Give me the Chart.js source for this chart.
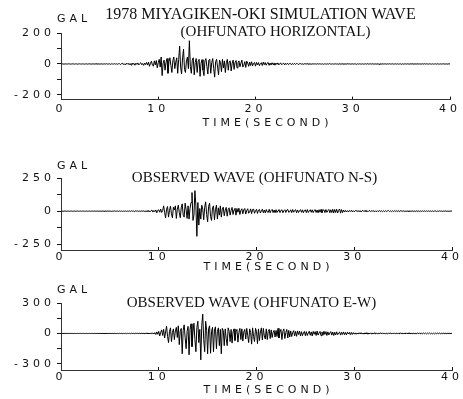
<!DOCTYPE html>
<html>
<head>
<meta charset="utf-8">
<script src="https://cdn.jsdelivr.net/npm/chart.js@4/dist/chart.umd.min.js"></script>
<style>
  html, body { margin: 0; padding: 0; background: #fff; }
  #wrap { position: relative; width: 463px; height: 399px; overflow: hidden; }
  canvas { position: absolute; left: 0; }
</style>
</head>
<body>
<div id="wrap">
  <canvas id="c1" width="463" height="132" style="top:0px"></canvas>
  <canvas id="c2" width="463" height="142" style="top:132px"></canvas>
  <canvas id="c3" width="463" height="125" style="top:274px"></canvas>
</div>
<script>
// sampling step of the traces (seconds) and the time axis ticks
const dt = 0.1;
const xTicks = [0, 10, 20, 30, 40];

// acceleration (GAL), one value every 0.1 s from 0 to 40 s
const simHorizontal = [
  0, 1, 0, -1, 0, 1, -1, 0, 1, 0, -1, 0, 1, 0, -1, 1, 0, -1, 0, 1,
  0, -1, 1, 0, -1, 0, 1, -1, 0, 1, 0, -1, 0, 1, -1, 0, 1, 0, -1, 1,
  -1, 0, 1, -1, 0, 1, -1, 2, -1, 0, 1, -2, 1, 0, -1, 2, -1, 1, -2, 1,
  3, -4, 1, 5, -3, 2, -6, 4, -2, 5, -5, 3, -7, 6, -2, 4, -8, 5, -3, 7,
  -6, 2, 8, -5, 3, -9, 6, -4, 10, -7,
  12, -15, 5, 18, -8, -14, 20, -6, 22, -25,
  8, 30, -20, 45, -75, 5, 25, -40, 10, 35,
  -60, 15, 40, -10, -55, 20, 45, -30, 12, 40,
  -60, 30, 115, -20, -65, 40, 95, -35, -55, 20,
  45, -30, 150, -15, -60, 25, 40, -70, 10, 35,
  -55, 15, 30, -80, 5, 28, -40, -75, 20, 35,
  -15, -65, 25, 30, -60, 10, 35, -30, -85, 15,
  30, -20, -70, 25, 10, -50, 30, -25, 20, -55,
  8, 30, -40, 15, 20, -45, 5, 25, -35, 10,
  22, -25, 8, 20, -18, 5, 25, -20, -8, 15, -22, 18, 6, -15, 12, -10, 14, -12, 4, 10,
  -14, 10, -6, 9, -11, 3, 8, -10, 12, -5, 9, -8, 4, 10, -9, 6, -7, 8, -4, 7,
  -8, 6, -3, 7, -6, 3, 6, -5, 2, 5, -6, 4, -3, 5, -4, 2, 4, -5, 3, -3,
  4, -3, 2, 3, -4, 1, 3, -2, 2, -3, 1, 2, -2, 3, -1, 2, -2, 1, -2, 2,
  -1, 1, 0, -1, 2, -1, 1, 0, -1, 1, -2, 1, 0, -1, 1, -1, 2, 0, -1, 1,
  -1, 0, 1, -1, 1, -2, 1, 0, -1, 1, 0, -1, 1, -1, 0, 2, -1, 1, -1, 0,
  1, -1, 1, 0, -2, 1, -1, 1, 0, -1, 1, -1, 0, 1, -1, 2, -1, 0, 1, -1,
  1, 0, -1, 1, -1, 0, 1, -2, 1, -1, 0, 1, -1, 1, 0, -1, 1, -1, 2, -1,
  0, 1, -1, 0, 1, -1, 1, -1, 0, 1, -2, 1, -1, 0, 1, -1, 1, 0, -1, 1,
  -1, 2, -1, 0, 1, -1, 0, 1, -1, 1, -1, 0, 1, -1, 2, -1, 1, 0, -1, 1,
  0, -1, 1, -1, 0, 1, -1, 1, 0, -1, 1, -1, 0, 1, 0, -1, 1, -1, 0, 1,
  0
];

const obsNS = [
  0, 1, -1, 0, 1, 0, -1, 1, 0, -1, 1, 0, -1, 0, 1, -1, 0, 1, -1, 0,
  1, -1, 0, 1, 0, -1, 1, -1, 0, 1, -1, 0, 1, -1, 1, 0, -1, 1, 0, -1,
  1, -1, 0, 1, -1, 1, 0, -1, 2, -1, 1, 0, -2, 1, -1, 2, -1, 0, 1, -2,
  2, -1, 1, -2, 1, -1, 2, -2, 1, -1, 2, -2, 3, -1, 2, -3, 2, -1, 3, -2,
  2, -3, 3, -2, 4, -3, 2, -4, 3, -2,
  4, -6, 3, 8, -7, 5, -4, 9, -12, 6, 10, -8, 15, -10, 5,
  40, -10, -50, 15, 35,
  -45, 5, 38, -20, -50, 30, 10, 40, -55, 15,
  45, -10, -50, 25, 55, -30, -45, 60, 10, -55,
  40, -60, 20, 65, 140, -70, -30, 155, 40, -190,
  65, -105, 20, -60, 45, 15, -65, 30, 70, -25,
  -80, 35, 60, -40, -70, 25, 40, -65, 10, 45,
  -60, 25, -30, 40, -45, 15, 30, -35, 8, 28,
  -38, 12, 25, -30, 5, 28, -25, 10, 22, -30,
  20, -8, 22, -25, 6, 18, -20, 10, 20, -22, 5, 18, -15, -8, 17, -18, 12, 15, -16, 4,
  14, -17, 8, 13, -14, 3, 15, -12, 9, -13, 12, -6, -10, 14, -12, 5, 13, -11, 8, -12,
  11, -10, 4, 12, -11, 6, 10, -12, 3, 11, -10, 8, 12, -9, -4, 10, -11, 12, -8, 5,
  11, -12, 9, -10, 4, 11, -9, 10, -12, 6, 9, -11, 12, -10, 3, 11, -9, 10, -11, 5,
  12, -10, 9, -13, 11, -8, 13, -12, 6, 10, -11, 12, -9, 4, 13, -12, 10, -11, 14, -13,
  12, -10, 15, -14, 6, 16, -15, 12, -11, 8,
  -7, 6, -5, 4, -6, 5, -3, 6, -5, 4, -5, 3, 6, -4, 5, -5, 4, -6, 3, 5,
  -4, 5, -3, 4, -5, 3, 4, -4, 5, -3, 4, -5, 3, -4, 4, -3, 5, -4, 3, -4,
  3, -4, 4, -3, 2, 4, -3, 3, -4, 3, -3, 4, -2, 3, -3, 4, -3, 2, 3, -3,
  4, -3, 2, -3, 3, -2, 3, -3, 2, -2, 3, -3, 2, -3, 3, -2, 2, -3, 2, -2,
  3, -2, 2, -2, 3, -2, 2, -1, 2, -2, 2, -2, 1, 2, -2, 1, -2, 2, -1, 2,
  -2, 1, -1, 2, -1, 1, -2, 1, -1, 1,
  0
];

const obsEW = [
  0, 1, -1, 0, 1, 0, -1, 1, 0, -1, 1, 0, -1, 0, 1, -1, 0, 1, -1, 0,
  1, -1, 0, 1, 0, -1, 1, -1, 0, 1, -1, 0, 1, -1, 1, 0, -1, 1, 0, -1,
  1, -1, 0, 1, -1, 1, 0, -1, 1, -1, 1, 0, -1, 1, -1, 2, -1, 0, 1, -2,
  2, -1, 1, -2, 1, -1, 2, -2, 1, -1, 2, -2, 3, -1, 2, -3, 2, -1, 3, -2,
  3, -3, 4, -2, 3, -4, 3, -2, 5, -4, 4, -5, 6, -3, 5,
  -6, 8, -10, 15, -8, 20, -25, 12, 35, -20,
  40, -45, 15, 70, -30,
  -90, 20, 55, -80, 10, 45, -60, 25, 60, -40,
  75, -110, 25, 50, -200, 30, 85, -40, -150, 20,
  70, -210, 40, 95, -130, 15, 100, -60, -180, 60,
  120, -90, 40, -260, 80, 190, -60, -180, 120, 30,
  -200, 45, 75, -195, 20, 60, -180, 35, 65, -150,
  20, 55, -120, 40, -200, 50, 30, -120, 45, -50,
  -120, 55, 20, -80, 40, -95, 15, 45, -70, 20,
  40, -85, 10, 50, -60, 45, -75, 15, 40, -55,
  50, -20, -90, 45, 10, -105, 55, -30, -80, 50,
  20, -100, 45, -70, 15, 55, -65, 50, -25, -55,
  45, -60, 20, 40, -50, 35, -40, 10, 30, -35,
  30, -30, 50, -45, 15, 40, -60, 20, 45, -50,
  10, 40, -45, 30, -35, 25, -30, 8, 28, -25,
  20, -28, 25, -10, 22, -25, 18, -22, 5, 20,
  -22, 18, -20, 6, 22, -18, 15, -24, 20, -8, 18, -20, 24, -16, 5, 20, -22, 15, -18, 22,
  -10, 18, -20, 16, -15, 4, 18, -16, 14, -20, 12, -15, 16, -12, 5, 14, -16, 12, -10, 15,
  -12, 10, -14, 12, -5, 11, -12, 10, -9, 8,
  -7, 6, -8, 5, -6, 7, -5, 8, -6, 4, -7, 6, -5, 7, -8, 5, -4, 6, -7, 5,
  -6, 8, -5, 4, -7, 6, -5, 7, -4, 6, -6, 5, -7, 4, -5, 6, -4, 7, -6, 5,
  -5, 6, -4, 5, -6, 4, -5, 7, -4, 5, -6, 4, -5, 6, -4, 5, -3, 6, -5, 4,
  -4, 5, -6, 4, -3, 5, -4, 6, -5, 3, -4, 5, -3, 4, -5, 4, -3, 5, -4, 3,
  -4, 3, -5, 4, -3, 4, -3, 5, -4, 3, -3, 4, -3, 3, -4, 3, -2, 4, -3, 2,
  0
];

const ink = '#111';
const tickFont = { family: '"DejaVu Sans", sans-serif', size: 11 };
const serif = '"Liberation Serif", serif';

const panels = [
  { id: 'c1', values: simHorizontal, yMax: 200, yMin: -230,
    title: '1978 MIYAGIKEN-OKI SIMULATION WAVE', titleSize: 16, titlePad: { top: 6.5, bottom: 0 },
    subtitle: '(OHFUNATO HORIZONTAL)', subtitlePad: { top: 0, bottom: -7.5 },
    xHeight: 32.4, xLabelPad: 6, xTitlePad: 2.4, galDy: 13.5,
    shift: { title: 5, subtitle: 20, axisTitle: 12 } },
  { id: 'c2', values: obsNS, yMax: 250, yMin: -293,
    title: 'OBSERVED WAVE (OHFUNATO N-S)', titleSize: 15, titlePad: { top: 37.5, bottom: -8.5 },
    subtitle: '', subtitlePad: 0,
    xHeight: 24, xLabelPad: 4, xTitlePad: 0, galDy: 11.5,
    shift: { title: -2, subtitle: 0, axisTitle: 12 } },
  { id: 'c3', values: obsEW, yMax: 300, yMin: -360,
    title: 'OBSERVED WAVE (OHFUNATO E-W)', titleSize: 15, titlePad: { top: 20.5, bottom: -8.5 },
    subtitle: '', subtitlePad: 0,
    xHeight: 29, xLabelPad: 4, xTitlePad: 2.4, galDy: 13,
    shift: { title: -5, subtitle: 0, axisTitle: 12 } }
];

// plotter-style lettering: wide spacing for the axis text and the GAL unit
const plotterText = {
  id: 'plotterText',
  beforeDraw(chart) { chart.ctx.letterSpacing = '0px'; },
  afterDatasetsDraw(chart) { chart.ctx.letterSpacing = '4px'; },
  afterDraw(chart, args, opts) {
    const ctx = chart.ctx;
    ctx.save();
    ctx.letterSpacing = '4px';
    ctx.font = '11px "DejaVu Sans"';
    ctx.fillStyle = ink;
    ctx.textBaseline = 'middle';
    ctx.fillText('GAL', chart.chartArea.left - 4, chart.chartArea.top - opts.dy);
    ctx.restore();
    ctx.letterSpacing = '0px';
  }
};

// the headings on the original sit a little off the plot centre: nudge them sideways
const nudge = {
  id: 'nudge',
  beforeDraw(chart, args, opts) {
    const TitleEl = Chart.Title && Chart.Title._element;
    chart.boxes.forEach(b => {
      if (b._nudged) return;
      let key = 'draw', dx;
      if (b === chart.scales.x) { key = 'drawTitle'; dx = opts.axisTitle; }
      else if (b === chart.titleBlock) dx = opts.title;
      else if (TitleEl && b instanceof TitleEl) dx = opts.subtitle;
      else return;
      const orig = b[key];
      b[key] = function (...a) {
        this.ctx.save();
        this.ctx.translate(dx, 0);
        orig.apply(this, a);
        this.ctx.restore();
      };
      b._nudged = true;
    });
  }
};

panels.forEach(p => {
  const M = p.yMax;
  new Chart(document.getElementById(p.id), {
    type: 'line',
    data: {
      datasets: [{
        data: p.values.map((v, i) => ({ x: i * dt, y: v })),
        borderColor: '#000',
        borderWidth: 1,
        pointRadius: 0,
        tension: 0,
        fill: false
      }]
    },
    options: {
      responsive: false,
      animation: false,
      events: [],
      layout: { padding: { left: 0, right: 9, top: 0, bottom: 0 } },
      plugins: {
        legend: { display: false },
        tooltip: { enabled: false },
        title: {
          display: true,
          text: p.title,
          fullSize: false,
          color: ink,
          font: { family: serif, size: p.titleSize, weight: 'normal', lineHeight: '17px' },
          padding: p.titlePad
        },
        subtitle: {
          display: p.subtitle !== '',
          text: p.subtitle,
          fullSize: false,
          color: ink,
          font: { family: serif, size: 15, weight: 'normal', lineHeight: '17px' },
          padding: p.subtitlePad
        },
        plotterText: { dy: p.galDy },
        nudge: p.shift
      },
      scales: {
        x: {
          type: 'linear',
          min: 0,
          max: 40,
          afterBuildTicks: s => { s.ticks = xTicks.map(v => ({ value: v })); },
          afterFit: s => { s.height = p.xHeight; },
          // negative length: tick marks point up into the plot, as on the original
          grid: { drawOnChartArea: false, drawTicks: true, tickLength: -3, color: ink, z: 1 },
          border: { color: '#333', width: 1, z: 1 },
          ticks: { color: ink, font: tickFont, padding: p.xLabelPad, maxRotation: 0, z: 1 },
          title: { display: true, text: 'TIME(SECOND)', color: ink, font: tickFont,
                   padding: { top: 0, bottom: p.xTitlePad } }
        },
        y: {
          min: p.yMin,
          max: M,
          afterBuildTicks: s => { s.ticks = [-M, -M / 2, 0, M / 2, M].map(v => ({ value: v })); },
          afterFit: s => { s.width = 61; },
          grid: { drawOnChartArea: false, drawTicks: true, tickLength: 4, color: ink, z: 1 },
          border: { color: '#333', width: 1, z: 1 },
          ticks: { color: ink, font: tickFont, padding: 2, z: 1,
                   callback: v => (Math.abs(v) === M / 2 ? '' : String(v)) }
        }
      }
    },
    plugins: [plotterText, nudge]
  });
});
</script>
</body>
</html>
